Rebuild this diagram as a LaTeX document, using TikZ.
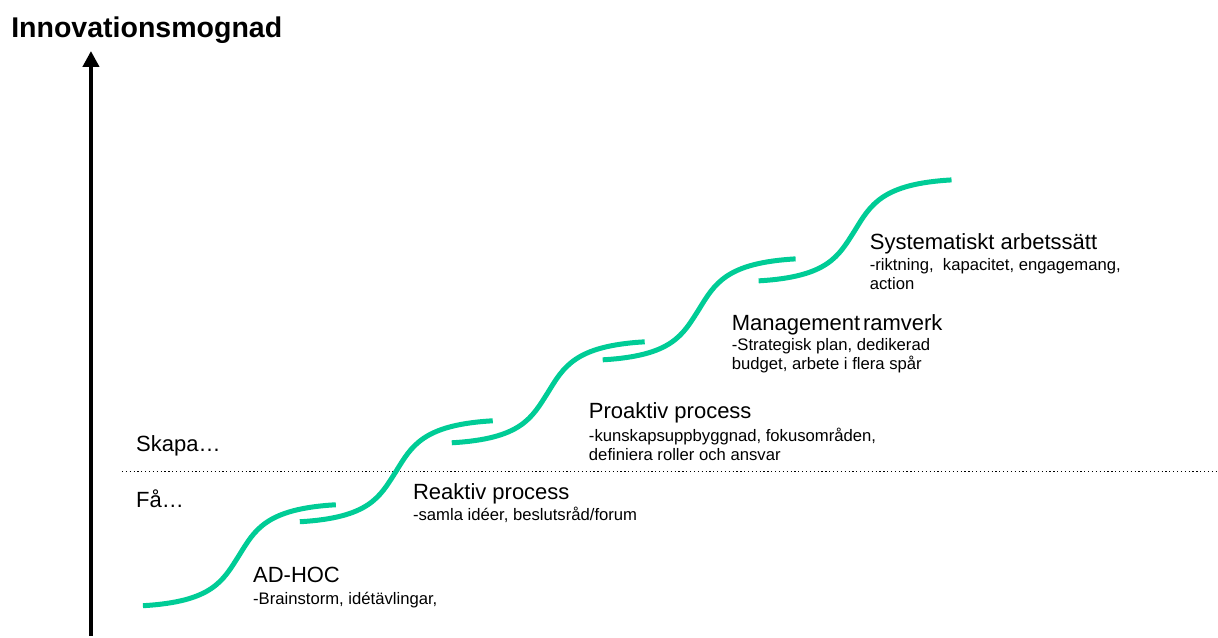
\documentclass[tikz,border=0pt]{standalone}
\usepackage{fontspec}
\setmainfont{Liberation Sans}
\usetikzlibrary{arrows.meta}

\definecolor{stairgreen}{RGB}{0,204,150}

\tikzset{
  stair/.style={draw=stairgreen, line width=3.75pt},
  head/.style={anchor=base west, inner sep=0pt, font=\fontsize{16.5}{19}\selectfont},
  desc/.style={anchor=base west, inner sep=0pt, align=left, font=\fontsize{12.5}{14.6}\selectfont},
}

\begin{document}
\begin{tikzpicture}[x=0.75pt,y=0.75pt,yscale=-1,xscale=1]
\path (0,0) rectangle (1218,634); %set diagram size

% Axis
\coordinate (axbot) at (91,636);
\coordinate (axtop) at (91,51);
\draw [line width=3pt, -{Triangle[length=12pt,width=12pt]}] (axbot) -- (axtop);
\node (ttl) [anchor=base west, inner sep=0pt, font=\fontsize{21.4}{24}\selectfont\bfseries] at (11,38) {Innovationsmognad};

% Dotted line
\coordinate (dotl) at (122,472);
\coordinate (dotr) at (1218,472);
\draw [dotted, line width=0.9pt] (dotl) -- (dotr);

\node (skapa) [head] at (136,452) {Skapa…};
\node (fa) [head] at (136,508) {Få…};

% Stairs
\foreach \sx/\sy in {143/606, 300/522, 452/443, 603/360, 759/281}
{
\begin{scope}[shift={(\sx,\sy)}]
\draw [stair] (0,0) .. controls (70,-4) and (80,-25) .. (96,-50) .. controls (112,-76) and (123,-97) .. (193,-101);
\end{scope}
}

% Text Nodes (multi-line: base is the last line)
\node (adhoc) [head] at (253,583) {AD-HOC};
\node (adhocd) [desc] at (253,605) {-Brainstorm, idétävlingar,};

\node (reak) [head] at (413,500) {Reaktiv process};
\node (reakd) [desc] at (413,521) {-samla idéer, beslutsråd/forum};

\node (proak) [head] at (589,419) {Proaktiv process};
\node (proakd) [desc] at (589,461) {-kunskapsuppbyggnad, fokusområden,\\definiera roller och ansvar};

\node (mgmt) [head] at (732,331) {Management\hspace{-0.15em} ramverk};
\node (mgmtd) [desc] at (732,370) {-Strategisk plan, dedikerad\\budget, arbete i flera spår};

\node (syst) [head] at (870,250) {Systematiskt arbetssätt};
\node (systd) [desc] at (870,290) {-riktning, \ kapacitet, engagemang,\\action};

\end{tikzpicture}
\end{document}
